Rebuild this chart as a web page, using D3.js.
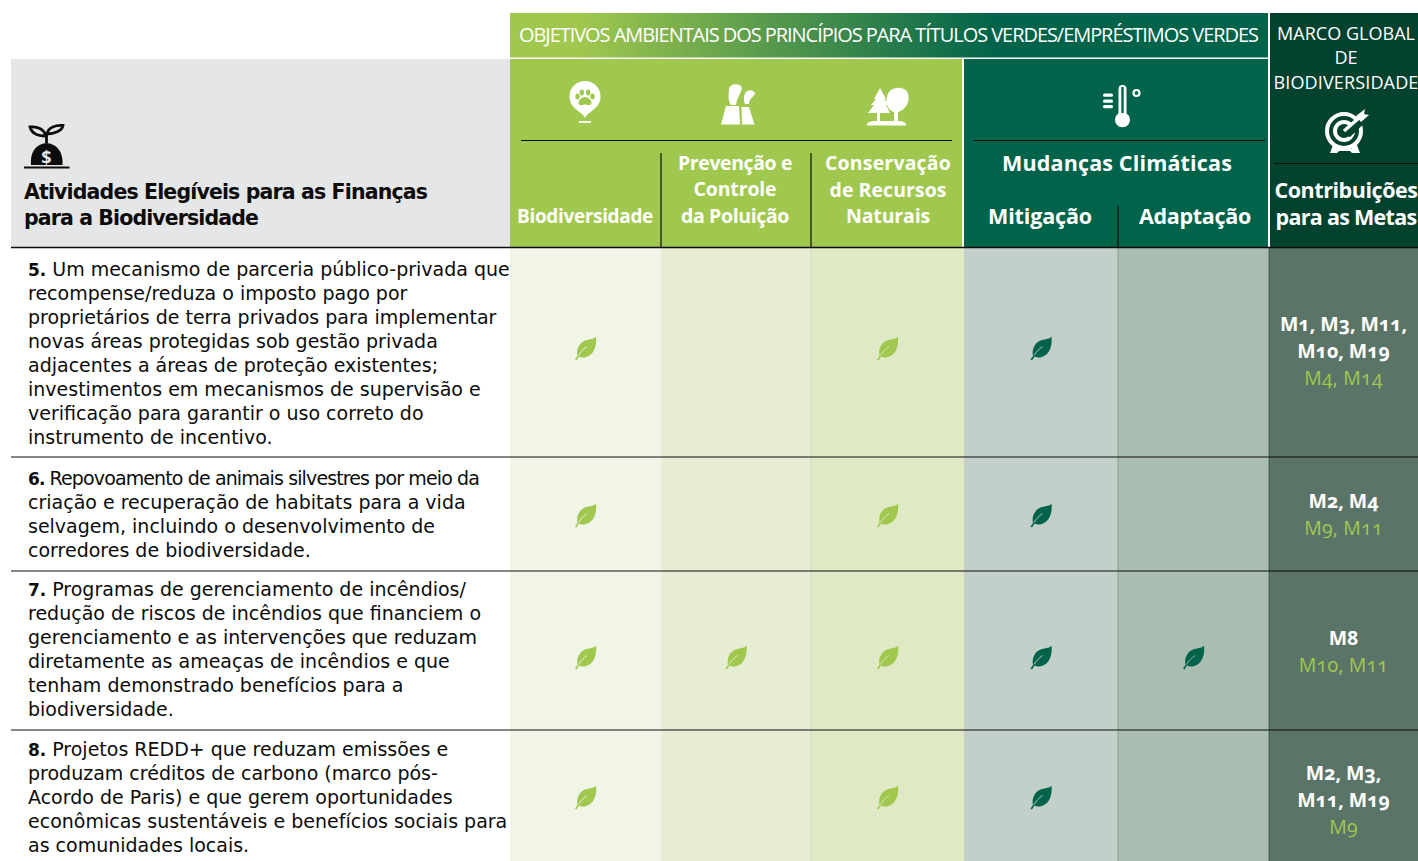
<!DOCTYPE html>
<html>
<head>
<meta charset="utf-8">
<script src="https://cdn.jsdelivr.net/npm/d3@7"></script>
<style>
html, body { margin: 0; padding: 0; background: #fff; }
svg { display: block; }
text { font-family: "Open Sans", "Noto Sans", sans-serif; font-feature-settings: "onum"; }
text.tight { font-family: "DejaVu Sans", sans-serif; }
</style>
</head>
<body>
<div id="chart"></div>
<script>
/* chart content */
const columns = ["Biodiversidade", "Prevenção", "Conservação", "Mitigação", "Adaptação", "Metas"];
const rowIds = ["5", "6", "7", "8"];

const activities5 = ["Um mecanismo de parceria público-privada que", "recompense/reduza o imposto pago por", "proprietários de terra privados para implementar", "novas áreas protegidas sob gestão privada", "adjacentes a áreas de proteção existentes;", "investimentos em mecanismos de supervisão e", "verificação para garantir o uso correto do", "instrumento de incentivo."];
const activities6 = ["Repovoamento de animais silvestres por meio da", "criação e recuperação de habitats para a vida", "selvagem, incluindo o desenvolvimento de", "corredores de biodiversidade."];
const activities7 = ["Programas de gerenciamento de incêndios/", "redução de riscos de incêndios que financiem o", "gerenciamento e as intervenções que reduzam", "diretamente as ameaças de incêndios e que", "tenham demonstrado benefícios para a", "biodiversidade."];
const activities8 = ["Projetos REDD+ que reduzam emissões e", "produzam créditos de carbono (marco pós-", "Acordo de Paris) e que gerem oportunidades", "econômicas sustentáveis e benefícios sociais para", "as comunidades locais."];
const activities = [activities5, activities6, activities7, activities8];

const leaves5 = ["Biodiversidade", "Conservação", "Mitigação"];
const leaves6 = ["Biodiversidade", "Conservação", "Mitigação"];
const leaves7 = ["Biodiversidade", "Prevenção", "Conservação", "Mitigação", "Adaptação"];
const leaves8 = ["Biodiversidade", "Conservação", "Mitigação"];
const leaves = [leaves5, leaves6, leaves7, leaves8];

const mainTargets = [["M1, M3, M11,", "M10, M19"], ["M2, M4"], ["M8"], ["M2, M3,", "M11, M19"]];
const secondaryTargets = ["M4, M14", "M9, M11", "M10, M11", "M9"];

const bandTitle = "OBJETIVOS AMBIENTAIS DOS PRINCÍPIOS PARA TÍTULOS VERDES/EMPRÉSTIMOS VERDES";
const marcoTitle = ["MARCO GLOBAL", "DE", "BIODIVERSIDADE"];

/* layout */
const width = 1418, height = 861;
const colEdges = [510, 661, 811, 964, 1118, 1269, 1418];
const rowEdges = [248, 457, 571, 730, 861];
const colFills = ["#f1f5e7", "#e6edd3", "#dfe9c5", "#c3cfc9", "#a9bdb1", "#5b7468"];
const colRules = [0, 0.12, 0, 0.35, 0.75];
const lime = "#a1c84e", forest = "#00634a", deep = "#02422f", ink = "#0c0c0c";

const xLeft = d3.scaleOrdinal(columns, colEdges.slice(0, -1));
const xRight = d3.scaleOrdinal(columns, colEdges.slice(1));
const xMid = c => (xLeft(c) + xRight(c)) / 2;
const yTop = d3.scaleOrdinal(rowIds, rowEdges.slice(0, -1));
// rows are not centred the same way in the source, so each band has its own anchors
const yText = d3.scaleOrdinal(rowIds, [276, 484.5, 596, 756]);
const yLeaf = d3.scaleOrdinal(rowIds, [348, 515, 657, 797]);
const yTarget = d3.scaleOrdinal(rowIds, [351, 514, 651, 800]);

const svg = d3.select("#chart").append("svg")
	.attr("width", width)
	.attr("height", height);

const defs = svg.append("defs");
const grad = defs.append("linearGradient").attr("id", "band");
grad.append("stop").attr("offset", "9%").attr("stop-color", lime);
grad.append("stop").attr("offset", "64%").attr("stop-color", forest);

/* fit a line to a measured width by nudging the letter spacing */
function fit(sel, target) {
	sel.each(function () {
		const cur = this.getComputedTextLength();
		const n = this.textContent.length;
		d3.select(this).attr("letter-spacing", ((target - cur) / n).toFixed(3));
	});
	return sel;
}

function label(parent, x, y, str, size, weight, fill, anchor) {
	return parent.append("text")
		.attr("x", x).attr("y", y)
		.attr("font-size", size)
		.attr("font-weight", weight)
		.attr("fill", fill)
		.attr("text-anchor", anchor || "middle")
		.text(str);
}

function hline(parent, x1, x2, y, color, w) {
	return parent.append("line").attr("x1", x1).attr("x2", x2).attr("y1", y).attr("y2", y)
		.attr("stroke", color).attr("stroke-width", w || 1.2);
}
function vline(parent, x, y1, y2, color, w) {
	return parent.append("line").attr("x1", x).attr("x2", x).attr("y1", y1).attr("y2", y2)
		.attr("stroke", color).attr("stroke-width", w || 1.2);
}

/* header */
const head = svg.append("g").attr("class", "head");
head.append("rect").attr("x", 510).attr("y", 13).attr("width", 758).attr("height", 44.5).attr("fill", "url(#band)");
head.append("rect").attr("x", 11).attr("y", 59).attr("width", 499).attr("height", 188).attr("fill", "#e5e6e8");
head.append("rect").attr("x", 510).attr("y", 59).attr("width", 452).attr("height", 188).attr("fill", lime);
head.append("rect").attr("x", 964).attr("y", 59).attr("width", 304).attr("height", 188).attr("fill", forest);
head.append("rect").attr("x", 1270).attr("y", 13).attr("width", 148).attr("height", 234).attr("fill", deep);

fit(label(head, 519, 42, bandTitle, 20, 400, "#fff", "start"), 739);

marcoTitle.forEach((t, i) => label(head, 1346, 40 + i * 24.3, t, 18, 400, "#fff")
	.call(s => i === 1 || fit(s, i === 0 ? 138 : 145)));

hline(head, 521, 952, 140.5, ink);
hline(head, 974, 1265, 140.5, ink);
hline(head, 1274, 1418, 163.5, ink);
vline(head, 661, 153, 247, ink);
vline(head, 811, 153, 247, ink);
vline(head, 1118, 206, 247, ink);

label(head, 24, 199, "Atividades Elegíveis para as Finanças", 20.5, 700, ink, "start").attr("class", "tight").call(fit, 403);
label(head, 24, 225, "para a Biodiversidade", 20.5, 700, ink, "start").attr("class", "tight").call(fit, 234);

label(head, 585, 223, "Biodiversidade", 19, 700, "#fff").call(fit, 136);
label(head, 735, 170, "Prevenção e", 19.5, 700, "#fff").call(fit, 114);
label(head, 735, 196, "Controle", 19.5, 700, "#fff").call(fit, 83);
label(head, 735, 223, "da Poluição", 19.5, 700, "#fff").call(fit, 108);
label(head, 888, 170, "Conservação", 19.5, 700, "#fff").call(fit, 126);
label(head, 888, 197, "de Recursos", 19.5, 700, "#fff").call(fit, 117);
label(head, 888, 223, "Naturais", 19.5, 700, "#fff").call(fit, 84);
label(head, 1117, 171, "Mudanças Climáticas", 21.5, 700, "#fff").call(fit, 230);
label(head, 1040, 224, "Mitigação", 21.5, 700, "#fff").call(fit, 104);
label(head, 1195, 224, "Adaptação", 21.5, 700, "#fff").call(fit, 112);
label(head, 1346, 198, "Contribuições", 21.5, 700, "#fff").call(fit, 143);
label(head, 1346, 225, "para as Metas", 21.5, 700, "#fff").call(fit, 141);

/* icons, drawn in local units */
const icon = (x, y, s) => head.append("g").attr("transform", `translate(${x},${y}) scale(${s || 1})`);

// money bag with sprout
const bag = icon(24, 124);
bag.append("path").attr("fill", ink).attr("d", "M0,42.5H45.5V44.5H0Z M7,41 C6,29 11,20 22.5,19 C34,20 39.5,29 38.5,41Z");
bag.append("path").attr("fill", "none").attr("stroke", ink).attr("stroke-width", 2.8)
	.attr("d", "M22.5,19V10 M22,12 C17,12 8,11 6,3 C13,2 20,5 22,12Z M23,10 C24,3 32,1 39,1.5 C38,7 30,10 23,10Z");
bag.append("text").attr("x", 22.5).attr("y", 40).attr("text-anchor", "middle").attr("font-size", 18).attr("font-weight", 700).attr("fill", "#e5e6e8").text("$");

// paw pin
const pin = icon(585, 98);
pin.append("path").attr("fill", "#fff").attr("d", "M0,20 C-3,13 -15.5,11 -15.5,-1.5 A15.5,15.5 0 0 1 15.5,-1.5 C15.5,11 3,13 0,20Z");
pin.append("rect").attr("x", -6).attr("y", 23).attr("width", 12).attr("height", 1.8).attr("fill", "#fff");
pin.append("path").attr("fill", lime).attr("d", "M0,-1 C4,-1 8,4 6,6.5 C3,8 1.5,6.5 0,6.5 C-1.5,6.5 -3,8 -6,6.5 C-8,4 -4,-1 0,-1Z");
[[-7.5, -1.5], [-3.2, -5.5], [3.2, -5.5], [7.5, -1.5]].forEach(p => pin.append("ellipse")
	.attr("cx", p[0]).attr("cy", p[1]).attr("rx", 2.2).attr("ry", 3).attr("fill", lime));

// chimneys with smoke
const plant = icon(721, 84);
plant.append("path").attr("fill", "#fff").attr("d", "M0,40.5 L5,22 L18,22 L19,40.5Z M21,40.5 L20.5,23 H28 L33.5,40.5Z");
plant.append("path").attr("fill", "#fff").attr("d", "M10,21 C6,15 8,10 8,5 C9,0 16,-1 20,2 C23,7 16,11 15,21Z M24,20 C22,15 23,9 26,7 C29,5 34,7 34,10 C32,13 28,15 28,20Z");

// trees
const trees = icon(867, 87);
trees.append("path").attr("fill", "#fff").attr("d", "M0,37 C2,34 6,34 10,34 V26 H1 L7,18 H4 L9,12 H7 L13,1 L19,12 H17 L22,18 H19 L23,26 H13 V34 H27 V25 C21,23 18,16 20,10 C21,3 28,0 34,1 C41,2 43,9 41,15 C39,21 35,24 31,25 V34 C36,34 38,35 39,37 V38.5 H0Z");

// thermometer
const therm = icon(1103, 83);
therm.append("path").attr("fill", "#fff").attr("d", "M15.5,30.5 V6 A4,4 0 0 1 23.5,6 V30.5 A7.5,7.5 0 1 1 15.5,30.5Z");
therm.append("rect").attr("x", 18.3).attr("y", 4).attr("width", 2.4).attr("height", 26).attr("fill", forest);
[10.5, 16.5, 22].forEach(y => therm.append("rect").attr("x", 0).attr("y", y).attr("width", 10).attr("height", 3.2).attr("rx", 1.5).attr("fill", "#fff"));
therm.append("circle").attr("cx", 33.5).attr("cy", 10).attr("r", 3).attr("fill", "none").attr("stroke", "#fff").attr("stroke-width", 2.2);

// target
const target = icon(1324, 109);
target.append("path").attr("fill", "#fff").attr("d", "M6,44 L9,36 H13 L13,40 H28 L28,36 H33 L36,44 H28 L26,42 H15 L13,44Z");
target.append("circle").attr("cx", 20).attr("cy", 22).attr("r", 17).attr("fill", "none").attr("stroke", "#fff").attr("stroke-width", 4);
target.append("circle").attr("cx", 20).attr("cy", 22).attr("r", 9).attr("fill", "none").attr("stroke", "#fff").attr("stroke-width", 4);
target.append("path").attr("fill", deep).attr("d", "M20,26 L37,4 L46,9 L26,28Z");
target.append("path").attr("stroke", "#fff").attr("stroke-width", 3.5).attr("d", "M20,22 L36,8");
target.append("path").attr("fill", "#fff").attr("d", "M32,7 L41,0 L40,5 L45,6 L37,13Z");

/* body cells */
const body = svg.append("g").attr("class", "body");
columns.forEach((c, i) => {
	body.append("rect")
		.attr("x", xLeft(c)).attr("y", rowEdges[0])
		.attr("width", xRight(c) - xLeft(c)).attr("height", height - rowEdges[0])
		.attr("fill", colFills[i]);
});
columns.slice(0, 5).forEach((c, i) => vline(body, xRight(c), rowEdges[0], height, "#1c3a2e", 0.8).attr("stroke-opacity", colRules[i]));

hline(body, 11, width, 247.5, ink, 1.4);
rowIds.slice(1).forEach(r => hline(body, 11, width, yTop(r), ink, 1));

/* rows */
const leafPath = "M-10.5,11.5 L-8,8 C-9.5,1 -6,-6 1,-8 C5,-9 9,-9 10.5,-11.5 C11.5,-3 9,5 3,8 C-1,10 -4,10 -6.5,8.5 L-9,12.5Z";
const veinPath = "M-7,7.5 C-5,4 -2,1 1.5,-1.5";

rowIds.forEach((r, i) => {
	const g = svg.append("g").attr("class", "row");

	activities[i].forEach((ln, j) => {
		const t = g.append("text").attr("class", "tight")
			.attr("x", 28).attr("y", yText(r) + j * 24)
			.attr("font-size", 19).attr("fill", ink);
		if (j === 0) {
			t.append("tspan").attr("font-weight", 700).attr("font-size", 17).text(r + ". ");
		}
		t.append("tspan").text(ln);
		// this one line is set condensed in the source
		if (r === "6" && j === 0) fit(t, 451);
	});

	leaves[i].forEach(c => {
		const dark = c === "Mitigação" || c === "Adaptação";
		const lf = g.append("g").attr("transform", `translate(${xMid(c)},${yLeaf(r)})`);
		lf.append("path").attr("d", leafPath).attr("fill", dark ? forest : lime);
		lf.append("path").attr("d", veinPath).attr("fill", "none")
			.attr("stroke", colFills[columns.indexOf(c)]).attr("stroke-width", 0.9);
	});

	const main = mainTargets[i];
	const topY = yTarget(r) - main.length * 13.5 + 7;
	main.forEach((m, j) => label(g, 1343.5, topY + j * 27, m, 19.5, 700, "#fff"));
	label(g, 1343.5, topY + main.length * 27, secondaryTargets[i], 19.5, 400, lime).attr("letter-spacing", 0.2);
});
</script>
</body>
</html>
